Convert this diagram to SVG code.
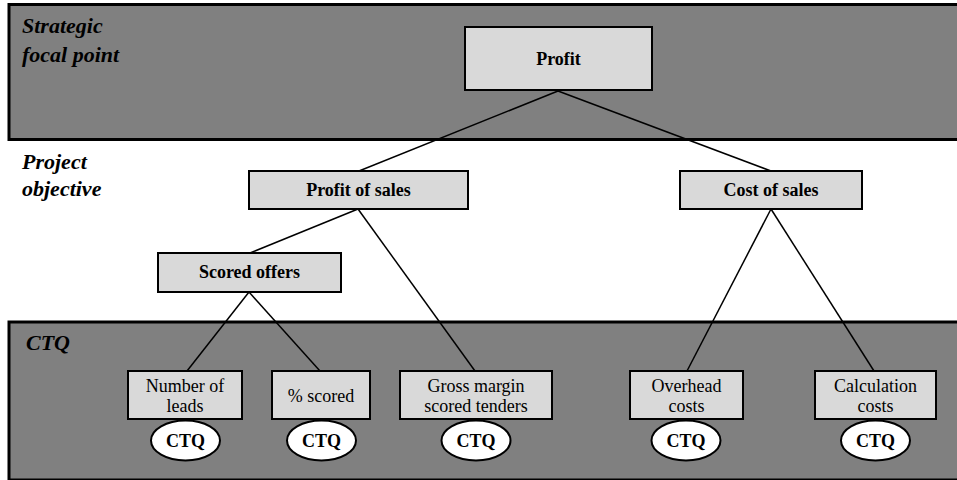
<svg xmlns="http://www.w3.org/2000/svg" width="957" height="480" viewBox="0 0 957 480">
  <style>
    .band { fill: #808080; stroke: #000; stroke-width: 3; }
    .box { fill: #d9d9d9; stroke: #000; stroke-width: 2; }
    .oval { fill: #fff; stroke: #000; stroke-width: 2; }
    .link { stroke: #000; stroke-width: 1.5; fill: none; }
    text { font-family: 'Liberation Serif', 'DejaVu Serif', 'Noto Serif', serif; fill: #000; }
    .tier { font-weight: bold; font-style: italic; font-size: 22px; }
    .bold { font-weight: bold; font-size: 18px; text-anchor: middle; dominant-baseline: central; }
    .plain { font-size: 18px; text-anchor: middle; dominant-baseline: central; }
  </style>
  <rect width="957" height="480" fill="#fff"/>

  <!-- tier bands -->
  <g id="band-strategic">
    <rect class="band" x="9" y="4.5" width="950" height="135"/>
    <text class="tier" x="22" y="33" font-family="Liberation Serif, serif">Strategic</text>
    <text class="tier" x="22" y="62" font-family="Liberation Serif, serif">focal point</text>
  </g>
  <g id="label-project">
    <text class="tier" x="22" y="169">Project</text>
    <text class="tier" x="22" y="196">objective</text>
  </g>
  <g id="band-ctq">
    <rect class="band" x="9" y="322" width="950" height="158"/>
    <text class="tier" x="26" y="350">CTQ</text>
  </g>

  <!-- connectors -->
  <g id="connectors">
    <line class="link" x1="558" y1="91" x2="359" y2="171"/>
    <line class="link" x1="558" y1="91" x2="771" y2="171"/>
    <line class="link" x1="358" y1="209" x2="250" y2="253"/>
    <line class="link" x1="358" y1="209" x2="475" y2="371"/>
    <line class="link" x1="249" y1="292" x2="187" y2="371"/>
    <line class="link" x1="249" y1="292" x2="320" y2="371"/>
    <line class="link" x1="771" y1="209" x2="687" y2="371"/>
    <line class="link" x1="771" y1="209" x2="874" y2="371"/>
  </g>

  <!-- nodes -->
  <g id="node-profit">
    <rect class="box" x="465" y="27" width="187" height="63"/>
    <text class="bold" x="558.5" y="59">Profit</text>
  </g>
  <g id="node-profit-of-sales">
    <rect class="box" x="249" y="171" width="219" height="38"/>
    <text class="bold" x="358.5" y="190">Profit of sales</text>
  </g>
  <g id="node-cost-of-sales">
    <rect class="box" x="680" y="171" width="182" height="38"/>
    <text class="bold" x="771" y="190">Cost of sales</text>
  </g>
  <g id="node-scored-offers">
    <rect class="box" x="158" y="253" width="183" height="39"/>
    <text class="bold" x="249.5" y="272">Scored offers</text>
  </g>

  <g id="node-number-of-leads">
    <rect class="box" x="128" y="371" width="114" height="48"/>
    <text class="plain" x="185" y="386">Number of</text>
    <text class="plain" x="185" y="406">leads</text>
    <ellipse class="oval" cx="185.5" cy="440.5" rx="34.5" ry="20"/>
    <text class="bold" x="185.5" y="441">CTQ</text>
  </g>
  <g id="node-pct-scored">
    <rect class="box" x="272" y="371" width="98" height="48"/>
    <text class="plain" x="321" y="396">% scored</text>
    <ellipse class="oval" cx="321.5" cy="440.5" rx="34.5" ry="20"/>
    <text class="bold" x="321.5" y="441">CTQ</text>
  </g>
  <g id="node-gross-margin">
    <rect class="box" x="400" y="371" width="152" height="48"/>
    <text class="plain" x="476" y="386">Gross margin</text>
    <text class="plain" x="476" y="406">scored tenders</text>
    <ellipse class="oval" cx="476" cy="440.5" rx="34.5" ry="20"/>
    <text class="bold" x="476" y="441">CTQ</text>
  </g>
  <g id="node-overhead-costs">
    <rect class="box" x="630" y="371" width="113" height="48"/>
    <text class="plain" x="686.5" y="386">Overhead</text>
    <text class="plain" x="686.5" y="406">costs</text>
    <ellipse class="oval" cx="686" cy="440.5" rx="34.5" ry="20"/>
    <text class="bold" x="686" y="441">CTQ</text>
  </g>
  <g id="node-calculation-costs">
    <rect class="box" x="815" y="371" width="121" height="48"/>
    <text class="plain" x="875.5" y="386">Calculation</text>
    <text class="plain" x="875.5" y="406">costs</text>
    <ellipse class="oval" cx="875.5" cy="440.5" rx="34.5" ry="20"/>
    <text class="bold" x="875.5" y="441">CTQ</text>
  </g>
</svg>
